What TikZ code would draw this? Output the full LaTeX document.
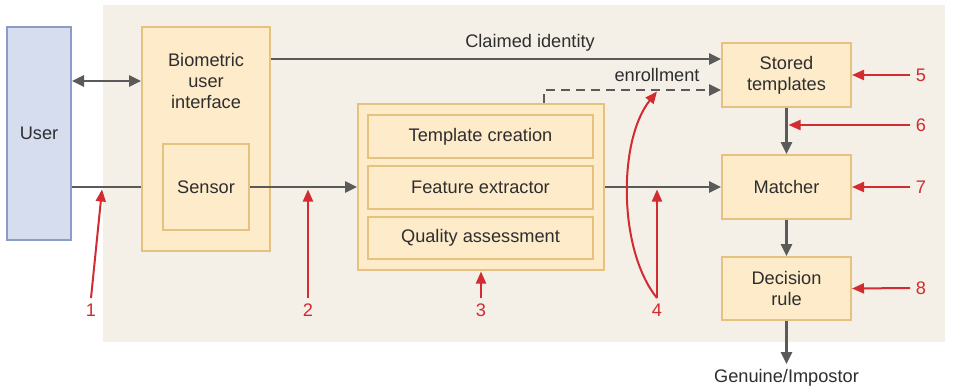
\documentclass[tikz,border=0pt]{standalone}
\usepackage{fontspec}
\setmainfont{Liberation Sans}
\usetikzlibrary{arrows.meta}
\definecolor{panelbg}{HTML}{F4EFE7}
\definecolor{userfill}{HTML}{D6DDEE}
\definecolor{userline}{HTML}{8C9CC6}
\definecolor{boxfill}{HTML}{FDEBCA}
\definecolor{boxline}{HTML}{E5C27F}
\definecolor{flow}{HTML}{5A5A5A}
\definecolor{attack}{HTML}{D22B30}
\tikzset{
  ubox/.style={draw=userline, fill=userfill, line width=2pt, inner sep=0pt},
  ybox/.style={draw=boxline, fill=boxfill, line width=2pt, inner sep=0pt, align=center},
  txt/.style={font=\fontsize{18.2}{21}\selectfont, text=black!82, align=center, inner sep=0pt},
  flowline/.style={draw=flow, line width=2.5pt},
  flowarrow/.style={flowline, -{Triangle[length=12pt,width=11pt]}},
  attackarrow/.style={draw=attack, line width=2pt, -{Triangle[length=12pt,width=10pt]}},
  attacknum/.style={font=\fontsize{18.2}{21}\selectfont, text=attack, inner sep=0pt}
}
\begin{document}
\begin{tikzpicture}[x=1pt,y=-1pt]
\useasboundingbox (0,0) rectangle (954,389);
\fill[white] (0,0) rectangle (954,389);
% system panel
\fill[panelbg] (103,5) rectangle (945,342);

% boxes
\node[ubox, minimum width=64pt, minimum height=213pt] (user) at (39,133.5) {};
\node[txt] at (user) {User};
\node[ybox, minimum width=128pt, minimum height=224pt] (bui) at (206,139) {};
\node[txt] (buitext) at (206,80.5) {Biometric\\user\\interface};
\node[ybox, minimum width=86pt, minimum height=86pt] (sensor) at (206,187) {};
\node[txt] at (sensor) {Sensor};

\node[ybox, minimum width=246pt, minimum height=166pt] (block) at (481,187) {};
\node[ybox, txt, minimum width=225pt, minimum height=43pt] (tc) at (480.5,136.5) {Template creation};
\node[ybox, txt, minimum width=225pt, minimum height=43pt] (fe) at (480.5,187.5) {Feature extractor};
\node[ybox, txt, minimum width=225pt, minimum height=42pt] (qa) at (480.5,238) {Quality assessment};

\node[ybox, txt, minimum width=129pt, minimum height=64pt] (stored) at (786.5,75) {Stored\\templates};
\node[ybox, txt, minimum width=129pt, minimum height=64pt] (matcher) at (786.5,187) {Matcher};
\node[ybox, txt, minimum width=129pt, minimum height=63pt] (decision) at (786.5,288.5) {Decision\\rule};

% data flow
\draw[flowline, {Triangle[length=12pt,width=11pt]}-{Triangle[length=12pt,width=11pt]}] (user.east |- 0,81) -- (bui.west |- 0,81);
\draw[flowline] (user.east |- sensor) -- (bui.west |- sensor);
\draw[flowarrow] (sensor.east) -- (block.west);
\draw[flowarrow] (block.east) -- (matcher.west);
\draw[flowarrow] (bui.east |- 0,59) -- (stored.west |- 0,59);
\node[txt] (claimed) at (530,43) {Claimed identity};
\coordinate (enrbend) at (544,90);
\draw[flowline, dash pattern=on 9pt off 6pt, -{Triangle[length=12pt,width=11pt]}]
  (enrbend |- block.north) -- (enrbend) -- (stored.west |- enrbend);
\node[txt] (enrtext) at (657,75) {enrollment};
\draw[flowarrow] (stored.south) -- (matcher.north);
\draw[flowarrow] (matcher.south) -- (decision.north);
\coordinate (outcome) at (786.5,364);
\draw[flowarrow] (decision.south) -- (outcome);
\node[txt] (result) at (786.5,378) {Genuine/Impostor};

% attack points
\node[attacknum] (n1) at (91,310) {1};
\draw[attackarrow] (91,298) -- (102,189.5);
\node[attacknum] (n2) at (308,310) {2};
\draw[attackarrow] (308,298) -- (308,189.5);
\node[attacknum] (n3) at (481,310) {3};
\draw[attackarrow] (481,298) -- (481,271.5);
\node[attacknum] (n4) at (657,310) {4};
\draw[attackarrow] (657,298) -- (657,189.5);
\draw[attackarrow] (657,298) .. controls (618,250) and (618,140) .. (657,91.5);
\node[attacknum] (n5) at (921,75) {5};
\draw[attackarrow] (910,75) -- (stored.east);
\node[attacknum] (n6) at (921,125) {6};
\draw[attackarrow] (910,125) -- (788.5,125);
\node[attacknum] (n7) at (921,187) {7};
\draw[attackarrow] (910,187) -- (matcher.east);
\node[attacknum] (n8) at (921,288) {8};
\draw[attackarrow] (910,288) -- (decision.east);
\end{tikzpicture}
\end{document}
